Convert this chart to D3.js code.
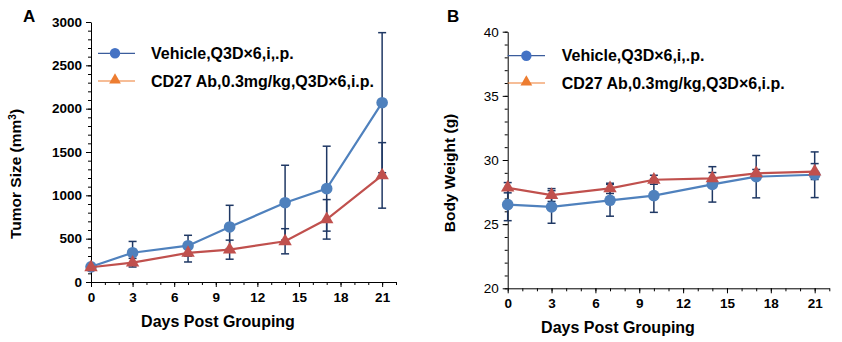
<!DOCTYPE html>
<html>
<head>
<meta charset="utf-8">
<script src="https://cdn.jsdelivr.net/npm/d3@7"></script>
<style>
    body { margin: 0; background: #fff; }
    svg { display: block; font-family: "Liberation Sans", Arial, sans-serif; }
</style>
</head>
<body>
<svg id="chart" width="842" height="342"></svg>
<script>
// data
const days = [0, 3, 7, 10, 14, 17, 21];
const xTicks = [0, 3, 6, 9, 12, 15, 18, 21];

const tumorVehicle = [175, 338, 419, 635, 915, 1077, 2069];
const tumorVehicleErr = [20, 130, 120, 250, 432, 490, 808];
const tumorCD27 = [170, 223, 335, 373, 470, 723, 1230];
const tumorCD27Err = [15, 50, 104, 110, 145, 228, 378];
const tumorTicks = [0, 500, 1000, 1500, 2000, 2500, 3000];

const weightVehicle = [26.52, 26.34, 26.86, 27.22, 28.1, 28.7, 28.85];
const weightVehicleErr = [1.25, 1.27, 1.24, 1.3, 1.38, 1.65, 1.78];
const weightCD27 = [27.84, 27.27, 27.79, 28.46, 28.57, 28.96, 29.1];
const weightCD27Err = [0.4, 0.5, 0.4, 0.35, 0.45, 0.3, 0.62];
const weightTicks = [20, 25, 30, 35, 40];

const seriesNames = ['Vehicle,Q3D×6,i,.p.', 'CD27 Ab,0.3mg/kg,Q3D×6,i.p.'];

const svg = d3.select('#chart');

const triangle = d3.symbol().type(d3.symbolTriangle).size(78);
const triangleSmall = d3.symbol().type(d3.symbolTriangle).size(60);

function drawPanel(opt) {
    const g = svg.append('g');
    const x = d3.scaleLinear().domain([0, 22]).range(opt.xRange);
    const y = d3.scaleLinear().domain(opt.yDomain).range(opt.yRange);

    // minor ticks
    g.append('g')
        .attr('transform', `translate(${opt.xRange[0]},0)`)
        .call(d3.axisLeft(y).tickValues(d3.range(opt.yDomain[0], opt.yDomain[1] + 0.001, opt.yMinor)).tickSize(3).tickFormat(''))
        .call(a => a.select('.domain').remove());
    g.append('g')
        .attr('transform', `translate(0,${opt.yRange[0]})`)
        .call(d3.axisBottom(x).tickValues(d3.range(0, 23)).tickSize(3).tickFormat(''))
        .call(a => a.select('.domain').remove());

    // major axes
    const yAxis = g.append('g')
        .attr('transform', `translate(${opt.xRange[0]},0)`)
        .call(d3.axisLeft(y).tickValues(opt.yTicks).tickFormat(d3.format('d')).tickSize(5).tickSizeOuter(0).tickPadding(4));
    yAxis.selectAll('text')
        .attr('font-size', 13.5)
        .attr('font-weight', opt.yBold ? 'bold' : 'normal')
        .attr('fill', '#000');

    const xAxis = g.append('g')
        .attr('transform', `translate(0,${opt.yRange[0]})`)
        .call(d3.axisBottom(x).tickValues(xTicks).tickFormat(d3.format('d')).tickSize(5).tickSizeOuter(0).tickPadding(5));
    xAxis.selectAll('text')
        .attr('font-size', 13.5)
        .attr('font-weight', 'bold')
        .attr('fill', '#000');

    g.selectAll('.domain, .tick line').attr('stroke', '#000');

    const series = [
        { vals: opt.a, err: opt.aErr, color: '#4f81bd', kind: 'circle' },
        { vals: opt.b, err: opt.bErr, color: '#c0504d', kind: 'triangle' }
    ];

    // error bars
    series.forEach(s => {
        const eb = g.append('g').attr('stroke', '#1f3864').attr('stroke-width', 1.5);
        days.forEach((d, i) => {
            const cx = x(d);
            const y1 = y(s.vals[i] + s.err[i]);
            const y2 = y(s.vals[i] - s.err[i]);
            eb.append('line').attr('x1', cx).attr('x2', cx).attr('y1', y1).attr('y2', y2);
            eb.append('line').attr('x1', cx - 4).attr('x2', cx + 4).attr('y1', y1).attr('y2', y1);
            eb.append('line').attr('x1', cx - 4).attr('x2', cx + 4).attr('y1', y2).attr('y2', y2);
        });
    });

    // lines and markers
    const line = d3.line().x((d, i) => x(days[i])).y(d => y(d));
    series.forEach(s => {
        g.append('path')
            .datum(s.vals)
            .attr('fill', 'none')
            .attr('stroke', s.color)
            .attr('stroke-width', 2.2)
            .attr('d', line);
        if (s.kind === 'circle') {
            g.selectAll(null).data(s.vals).join('circle')
                .attr('cx', (d, i) => x(days[i]))
                .attr('cy', d => y(d))
                .attr('r', 5.8)
                .attr('fill', s.color);
        } else {
            g.selectAll(null).data(s.vals).join('path')
                .attr('d', triangle)
                .attr('transform', (d, i) => `translate(${x(days[i])},${y(d)})`)
                .attr('fill', s.color);
        }
    });

    // legend
    const lg = g.append('g');
    const lx = opt.legend.x;
    lg.append('line').attr('x1', lx[0]).attr('x2', lx[1]).attr('y1', opt.legend.y[0]).attr('y2', opt.legend.y[0])
        .attr('stroke', '#3b5c9c').attr('stroke-width', 1.2);
    lg.append('circle').attr('cx', (lx[0] + lx[1]) / 2 + opt.legend.mOff).attr('cy', opt.legend.y[0]).attr('r', 5.2).attr('fill', '#4472c4');
    lg.append('line').attr('x1', lx[0]).attr('x2', lx[1]).attr('y1', opt.legend.y[1]).attr('y2', opt.legend.y[1])
        .attr('stroke', '#ed7d31').attr('stroke-width', 1.2);
    lg.append('path').attr('d', triangleSmall)
        .attr('transform', `translate(${(lx[0] + lx[1]) / 2 + opt.legend.mOff},${opt.legend.y[1] - 1})`)
        .attr('fill', '#ed7d31');
    seriesNames.forEach((name, i) => {
        lg.append('text')
            .attr('x', opt.legend.tx)
            .attr('y', opt.legend.y[i] + 5.5)
            .attr('font-size', 16)
            .attr('font-weight', 'bold')
            .text(name);
    });

    // titles
    g.append('text')
        .attr('x', opt.xTitle[0]).attr('y', opt.xTitle[1] + 5.5)
        .attr('text-anchor', 'middle')
        .attr('font-size', 16).attr('font-weight', 'bold')
        .text('Days Post Grouping');

    const yt = g.append('text')
        .attr('transform', `translate(${opt.yTitle[0] + 5.5},${opt.yTitle[1]}) rotate(-90)`)
        .attr('text-anchor', 'middle')
        .attr('font-size', 15.5).attr('font-weight', 'bold');
    if (opt.yLabel === 'tumor') {
        yt.append('tspan').text('Tumor Size (mm');
        yt.append('tspan').attr('font-size', 10).attr('dy', -5).text('3');
        yt.append('tspan').attr('dy', 5).text(')');
    } else {
        yt.text('Body Weight (g)');
    }

    g.append('text')
        .attr('x', opt.letter[0]).attr('y', opt.letter[1])
        .attr('font-size', 17).attr('font-weight', 'bold')
        .text(opt.letterText);
}

drawPanel({
    xRange: [91, 396],
    yDomain: [0, 3000], yRange: [282, 22], yTicks: tumorTicks, yMinor: 100, yBold: true,
    a: tumorVehicle, aErr: tumorVehicleErr, b: tumorCD27, bErr: tumorCD27Err,
    legend: { x: [98, 135], y: [53.3, 81], tx: 151, mOff: -1.5 },
    xTitle: [218, 321.7], yTitle: [15, 174], yLabel: 'tumor',
    letter: [23, 22], letterText: 'A'
});

drawPanel({
    xRange: [507.7, 829.3],
    yDomain: [20, 40], yRange: [288.3, 31.7], yTicks: weightTicks, yMinor: 1, yBold: false,
    a: weightVehicle, aErr: weightVehicleErr, b: weightCD27, bErr: weightCD27Err,
    legend: { x: [507.7, 545], y: [55.7, 83], tx: 561.7, mOff: 0 },
    xTitle: [618, 327], yTitle: [449.3, 173], yLabel: 'weight',
    letter: [447, 22], letterText: 'B'
});
</script>
</body>
</html>
